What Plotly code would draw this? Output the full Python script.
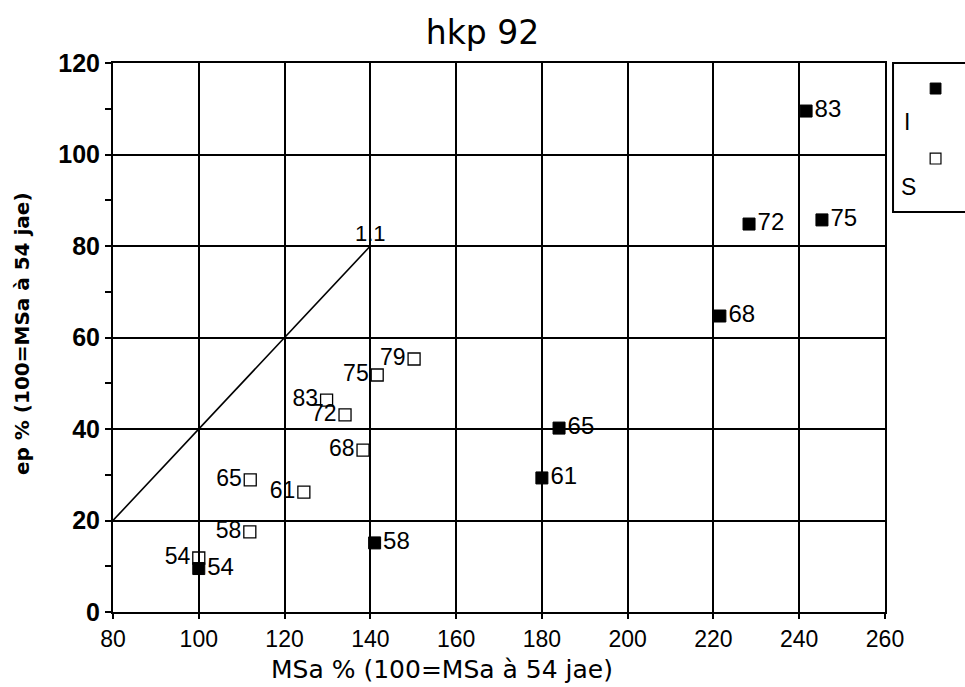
import plotly.graph_objects as go

# Series I (filled squares)
i_labels = ["54", "58", "61", "65", "68", "72", "75", "83"]
i_msa = [100.0, 141.0, 180.0, 184.0, 221.5, 228.3, 245.3, 241.6]
i_ep = [9.5, 15.1, 29.3, 40.2, 64.7, 84.8, 85.7, 109.5]

# Series S (open squares)
s_labels = ["54", "58", "61", "65", "68", "72", "75", "79", "83"]
s_msa = [100.0, 111.9, 124.5, 112.0, 138.3, 134.1, 141.6, 150.2, 129.8]
s_ep = [11.8, 17.5, 26.2, 28.9, 35.4, 43.1, 51.8, 55.3, 46.3]

# Reference line 1:1
ref_x = [80, 140]
ref_y = [20, 80]

FONT = "Liberation Sans, Arial, Helvetica, sans-serif"
WIDE = "DejaVu Sans, Liberation Sans, sans-serif"

fig = go.Figure()

fig.add_trace(go.Scatter(
    x=ref_x, y=ref_y, mode="lines",
    line=dict(color="black", width=1.6),
    showlegend=False, hoverinfo="skip",
))

fig.add_trace(go.Scatter(
    x=i_msa, y=i_ep, mode="markers+text", name="I",
    text=i_labels, textposition="middle right",
    textfont=dict(family=FONT, size=24, color="black"),
    marker=dict(symbol="square", size=12, color="black",
                line=dict(color="black", width=1)),
    showlegend=False,
))

fig.add_trace(go.Scatter(
    x=s_msa, y=s_ep, mode="markers+text", name="S",
    text=s_labels, textposition="middle left",
    textfont=dict(family=FONT, size=23, color="black"),
    marker=dict(symbol="square-open", size=12, color="black",
                line=dict(color="black", width=1.3)),
    showlegend=False,
))

fig.add_annotation(
    x=ref_x[1], y=ref_y[1], text="1.1", showarrow=False,
    xanchor="center", yanchor="bottom", yshift=-2,
    font=dict(family=FONT, size=22, color="black"),
)

# Axis titles
fig.add_annotation(xref="paper", yref="paper", x=0.426, y=-0.104,
                   text="MSa % (100=MSa à 54 jae)", showarrow=False,
                   xanchor="center", yanchor="middle",
                   font=dict(family=WIDE, size=25, color="black"))
fig.add_annotation(xref="paper", yref="paper", x=-0.118, y=0.508,
                   text="<b>ep % (100=MSa à 54 jae)</b>", showarrow=False,
                   textangle=-90, xanchor="center", yanchor="middle",
                   font=dict(family=WIDE, size=20, color="black"))

# Legend box at the right edge
fig.add_shape(type="rect", xref="paper", yref="paper",
              x0=1.0104, x1=1.12, y0=0.7286, y1=1.0,
              line=dict(color="black", width=2), fillcolor="white")
fig.add_shape(type="rect", xref="paper", yref="paper",
              x0=1.0585, x1=1.0725, y0=0.9435, y1=0.9635,
              line=dict(color="black", width=1), fillcolor="black")
fig.add_shape(type="rect", xref="paper", yref="paper",
              x0=1.0585, x1=1.0725, y0=0.8160, y1=0.8360,
              line=dict(color="black", width=1.2), fillcolor="white")
fig.add_annotation(xref="paper", yref="paper", x=1.0290, y=0.893,
                   text="I", showarrow=False, xanchor="center", yanchor="middle",
                   font=dict(family=FONT, size=23, color="black"))
fig.add_annotation(xref="paper", yref="paper", x=1.0310, y=0.774,
                   text="S", showarrow=False, xanchor="center", yanchor="middle",
                   font=dict(family=FONT, size=23, color="black"))

fig.update_layout(
    width=965, height=687,
    margin=dict(l=113, r=80, t=63, b=75),
    paper_bgcolor="white", plot_bgcolor="white",
    font=dict(family=FONT, color="black"),
    title=dict(text="hkp 92", x=0.5, xanchor="center", y=0.953, yanchor="middle",
               font=dict(family=WIDE, size=33, color="black")),
)

fig.update_xaxes(
    range=[80, 260], dtick=20, tick0=80,
    showgrid=True, gridcolor="black", gridwidth=1.5,
    showline=True, linecolor="black", linewidth=2, mirror=True,
    ticks="outside", ticklen=5, tickcolor="black", tickwidth=1.5,
    tickfont=dict(family=FONT, size=23, color="black"),
    zeroline=False,
)
fig.update_yaxes(
    range=[0, 120], dtick=20, tick0=0,
    showgrid=True, gridcolor="black", gridwidth=1.5,
    showline=True, linecolor="black", linewidth=2, mirror=True,
    ticks="outside", ticklen=6, tickcolor="black", tickwidth=1.5,
    minor=dict(dtick=10, ticks="outside", ticklen=6, tickcolor="black", tickwidth=1.5, showgrid=False),
    tickfont=dict(family=FONT, size=25, color="black"),
    tickprefix="<b>", ticksuffix="</b>",
    zeroline=False,
)

fig.write_html("out.html")
